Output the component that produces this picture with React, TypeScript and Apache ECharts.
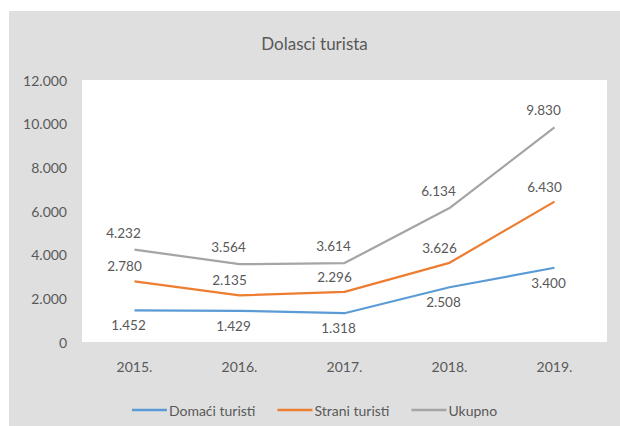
import React, { useEffect, useRef } from "react";
import * as echarts from "echarts";

const categories = ["2015.", "2016.", "2017.", "2018.", "2019."];
const domaci = [1452, 1429, 1318, 2508, 3400];
const strani = [2780, 2135, 2296, 3626, 6430];
const ukupno = [4232, 3564, 3614, 6134, 9830];
const seriesNames = ["Domaći turisti", "Strani turisti", "Ukupno"];
const colors = ["#5b9bd5", "#ed7d31", "#a5a5a5"];

const fmt = (v: number) =>
  String(Math.round(v)).replace(/\B(?=(\d{3})+(?!\d))/g, ".");

const FONT = "Lato";
const TXT = "#595959";

export default function App() {
  const ref = useRef<HTMLDivElement>(null);
  useEffect(() => {
    if (!ref.current) return;
    const chart = echarts.init(ref.current, null, { renderer: "svg" });
    const mkSeries = (name: string, data: number[], color: string, pos: "top" | "bottom", off: [number, number]) => ({
      name,
      type: "line",
      data,
      symbol: "circle",
      symbolSize: 0,
      showSymbol: true,
      smooth: false,
      lineStyle: { color, width: 2.25 },
      itemStyle: { color },
      label: {
        show: true,
        position: pos,
        distance: 8,
        offset: off,
        color: TXT,
        fontFamily: FONT,
        fontSize: 13.5,
        formatter: (p: any) => fmt(p.value),
      },
    });
    chart.setOption({
      animation: false,
      backgroundColor: "#dfdfdf",
      textStyle: { fontFamily: FONT },
      title: {
        text: "Dolasci turista",
        left: "center",
        top: 19,
        textStyle: { fontFamily: FONT, fontSize: 17, fontWeight: "normal", color: TXT },
      },
      grid: {
        left: 73,
        right: 13,
        top: 69,
        bottom: 84,
        show: true,
        backgroundColor: "#ffffff",
        borderWidth: 0,
      },
      legend: {
        top: 387,
        left: "center",
        itemWidth: 35,
        itemHeight: 2.5,
        itemGap: 22,
        icon: "rect",
        data: seriesNames,
        textStyle: { fontFamily: FONT, fontSize: 14, color: TXT, padding: [0, 0, 0, -3] },
      },
      xAxis: {
        type: "category",
        data: categories,
        boundaryGap: true,
        axisLine: { show: false },
        axisTick: { show: false },
        axisLabel: { color: TXT, fontFamily: FONT, fontSize: 14, margin: 17 },
      },
      yAxis: {
        type: "value",
        min: 0,
        max: 12000,
        interval: 2000,
        splitLine: { show: false },
        axisLine: { show: false },
        axisTick: { show: false },
        axisLabel: {
          color: TXT,
          fontFamily: FONT,
          fontSize: 14,
          margin: 15,
          formatter: (v: number) => fmt(v),
        },
      },
      series: [
        mkSeries(seriesNames[0], domaci, colors[0], "bottom", [-6, 0]),
        mkSeries(seriesNames[1], strani, colors[1], "top", [-10, 0]),
        mkSeries(seriesNames[2], ukupno, colors[2], "top", [-11, -2]),
      ],
    });
    return () => chart.dispose();
  }, []);
  return (
    <div style={{ position: "absolute", left: 0, top: 0, width: 620, height: 426, background: "#ffffff" }}>
      <div ref={ref} style={{ position: "absolute", left: 9, top: 11, width: 611, height: 415 }} />
    </div>
  );
}
